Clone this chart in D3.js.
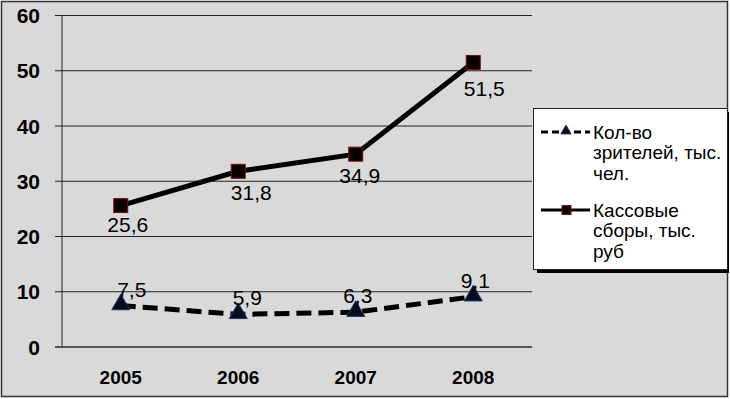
<!DOCTYPE html>
<html>
<head>
<meta charset="utf-8">
<script src="https://cdn.jsdelivr.net/npm/d3@7"></script>
<style>
  body { margin: 0; background: #fff; }
  text { font-family: "Liberation Sans", Arial, sans-serif; }
</style>
</head>
<body>
<script>
const years = ["2005", "2006", "2007", "2008"];
const viewers = [7.5, 5.9, 6.3, 9.1];
const boxOffice = [25.6, 31.8, 34.9, 51.5];
const yTicks = [0, 10, 20, 30, 40, 50, 60];
const viewersName = ["Кол-во", "зрителей, тыс.", "чел."];
const boxName = ["Кассовые", "сборы, тыс.", "руб"];

const W = 730, H = 399;
const margin = { top: 15.5, right: 198, bottom: 52, left: 62 };

const svg = d3.select("body").append("svg")
    .attr("width", W).attr("height", H);

// chart background and border
svg.append("rect")
    .attr("x", 1.5).attr("y", 1.5)
    .attr("width", W - 4).attr("height", H - 4)
    .style("fill", "#d9d9d9").style("stroke", "#333").style("stroke-width", 1.5);

const x = d3.scaleBand().domain(years).range([margin.left, W - margin.right]);
const y = d3.scaleLinear().domain([0, 60]).range([H - margin.bottom, margin.top]);

// gridlines with small tick stubs
const g = svg.append("g");
g.selectAll(".grid")
    .data(yTicks)
    .enter().append("line")
    .attr("x1", margin.left - 7).attr("x2", W - margin.right)
    .attr("y1", d => y(d)).attr("y2", d => y(d))
    .style("stroke", "#222").style("stroke-width", 1);

// y axis line
g.append("line")
    .attr("x1", margin.left).attr("x2", margin.left)
    .attr("y1", y(60)).attr("y2", y(0))
    .style("stroke", "#222").style("stroke-width", 1);

g.append("line")
    .attr("x1", margin.left - 7).attr("x2", W - margin.right)
    .attr("y1", y(0)).attr("y2", y(0))
    .style("stroke", "#555").style("stroke-width", 2);

// y tick labels
g.selectAll(".ylab")
    .data(yTicks)
    .enter().append("text")
    .attr("x", 40).attr("y", d => y(d))
    .attr("dy", "0.36em")
    .style("text-anchor", "end")
    .style("font-size", "21px").style("font-weight", "bold")
    .text(d => d);

// x tick labels
g.selectAll(".xlab")
    .data(years)
    .enter().append("text")
    .attr("x", d => x(d) + x.bandwidth() / 2).attr("y", 384)
    .style("text-anchor", "middle")
    .style("font-size", "19px").style("font-weight", "bold")
    .text(d => d);

const cx = i => x(years[i]) + x.bandwidth() / 2;
const line = d3.line().x((d, i) => cx(i)).y(d => y(d));

// box office line
svg.append("path")
    .datum(boxOffice)
    .attr("d", line)
    .style("fill", "none").style("stroke", "#000").style("stroke-width", 5);

svg.selectAll(".sq")
    .data(boxOffice)
    .enter().append("rect")
    .attr("x", (d, i) => cx(i) - 7).attr("y", d => y(d) - 7)
    .attr("width", 14).attr("height", 14)
    .style("fill", "#0a0000").style("stroke", "#7a1010").style("stroke-width", 1);

// viewers line
svg.append("path")
    .datum(viewers)
    .attr("d", line)
    .style("fill", "none").style("stroke", "#000").style("stroke-width", 5)
    .style("stroke-dasharray", "15,7");

const tri = d3.symbol().type(d3.symbolTriangle).size(140);
svg.selectAll(".tri")
    .data(viewers)
    .enter().append("path")
    .attr("d", tri)
    .attr("transform", (d, i) => "translate(" + cx(i) + "," + (y(d) - 1) + ")")
    .style("fill", "#0b0b1e").style("stroke", "#1f3864").style("stroke-width", 1);

// data labels
const boxLabelDx = [7, 13, 4, 11];
const boxLabelDy = [26, 29, 29, 34];
svg.selectAll(".bl")
    .data(boxOffice)
    .enter().append("text")
    .attr("x", (d, i) => cx(i) + boxLabelDx[i]).attr("y", (d, i) => y(d) + boxLabelDy[i])
    .style("text-anchor", "middle").style("font-size", "21px")
    .text(d => String(d).replace(".", ","));

const viewLabelDx = [11, 9, 2, 2];
svg.selectAll(".vl")
    .data(viewers)
    .enter().append("text")
    .attr("x", (d, i) => cx(i) + viewLabelDx[i]).attr("y", d => y(d) - 9)
    .style("text-anchor", "middle").style("font-size", "21px")
    .text(d => String(d).replace(".", ","));

// legend
const lg = svg.append("g");
lg.append("rect")
    .attr("x", 537).attr("y", 112).attr("width", 192).attr("height", 161)
    .style("fill", "#000");
lg.append("rect")
    .attr("x", 533.5).attr("y", 108.5).attr("width", 194).attr("height", 161)
    .style("fill", "#fff").style("stroke", "#222").style("stroke-width", 1);

const series = [
    { name: viewersName, y: 132, dash: "7,4", marker: "tri" },
    { name: boxName, y: 210, dash: null, marker: "sq" }
];
series.forEach(s => {
    lg.append("line")
        .attr("x1", 541).attr("x2", 590)
        .attr("y1", s.y).attr("y2", s.y)
        .style("stroke", "#000").style("stroke-width", 3)
        .style("stroke-dasharray", s.dash);
    if (s.marker === "tri") {
        lg.append("path")
            .attr("d", d3.symbol().type(d3.symbolTriangle).size(45))
            .attr("transform", "translate(566," + (s.y - 1) + ")")
            .style("fill", "#0b0b1e").style("stroke", "#1f3864");
    } else {
        lg.append("rect")
            .attr("x", 562).attr("y", s.y - 4.5).attr("width", 9).attr("height", 9)
            .style("fill", "#0a0000").style("stroke", "#7a1010");
    }
    s.name.forEach((t, j) => {
        lg.append("text")
            .attr("x", 593).attr("y", s.y + j * 20.5)
            .attr("dy", "0.36em")
            .style("font-size", "19px")
            .text(t);
    });
});
</script>
</body>
</html>
